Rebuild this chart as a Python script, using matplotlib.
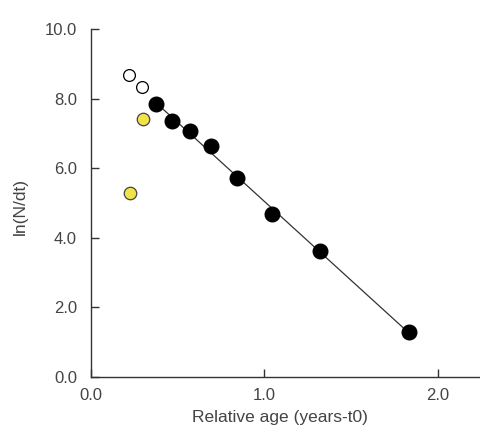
import matplotlib
matplotlib.use('Agg')
import matplotlib.pyplot as plt
import numpy as np

# catch-curve points
age_open = [0.22, 0.295]
lnN_open = [8.68, 8.33]

age_yellow = [0.30, 0.225]
lnN_yellow = [7.41, 5.29]

age_fit = [0.376, 0.468, 0.572, 0.694, 0.844, 1.046, 1.324, 1.832]
lnN_fit = [7.84, 7.36, 7.07, 6.64, 5.72, 4.68, 3.62, 1.29]

x_ticks = [0.0, 1.0, 2.0]
y_ticks = [0.0, 2.0, 4.0, 6.0, 8.0, 10.0]

plt.rcParams['font.family'] = ['Liberation Sans', 'DejaVu Sans']

fig = plt.figure(figsize=(4.81, 4.32), dpi=100)
ax = fig.add_axes([0.189, 0.127, 0.811, 0.806])

# regression line through the filled points
slope, icpt = np.polyfit(age_fit, lnN_fit, 1)
xs = np.array([min(age_fit), max(age_fit)])
ax.plot(xs, slope * xs + icpt, color='#333333', lw=0.9, zorder=2)

ax.plot(age_fit, lnN_fit, 'o', ms=10.5, color='black', mec='black', zorder=3)
ax.plot(age_open, lnN_open, 'o', ms=8.5, mfc='white', mec='black', mew=0.9, zorder=3)
ax.plot(age_yellow, lnN_yellow, 'o', ms=9, mfc='#f2e24a', mec='#444444', mew=0.9, zorder=3)

ax.set_xlim(0, 2.25)
ax.set_ylim(0, 10)
ax.set_xticks(x_ticks)
ax.set_yticks(y_ticks)
ax.set_xticklabels(['%.1f' % v for v in x_ticks])
ax.set_yticklabels(['%.1f' % v for v in y_ticks])

for s in ['top', 'right']:
    ax.spines[s].set_visible(False)
for s in ['left', 'bottom']:
    ax.spines[s].set_color('#333333')
    ax.spines[s].set_linewidth(1.0)

ax.tick_params(direction='in', length=6, width=1, color='#333333',
               labelcolor='#444444', labelsize=12)
ax.tick_params(axis='y', pad=10)
ax.tick_params(axis='x', pad=8)

ax.set_xlabel('Relative age (years-t0)', fontsize=12.5, color='#444444')
ax.set_ylabel('ln(N/dt)', fontsize=12.5, color='#444444')
ax.xaxis.set_label_coords(0.485, -0.095)
ax.yaxis.set_label_coords(-0.162, 0.49)

fig.savefig('out.png', dpi=100)
